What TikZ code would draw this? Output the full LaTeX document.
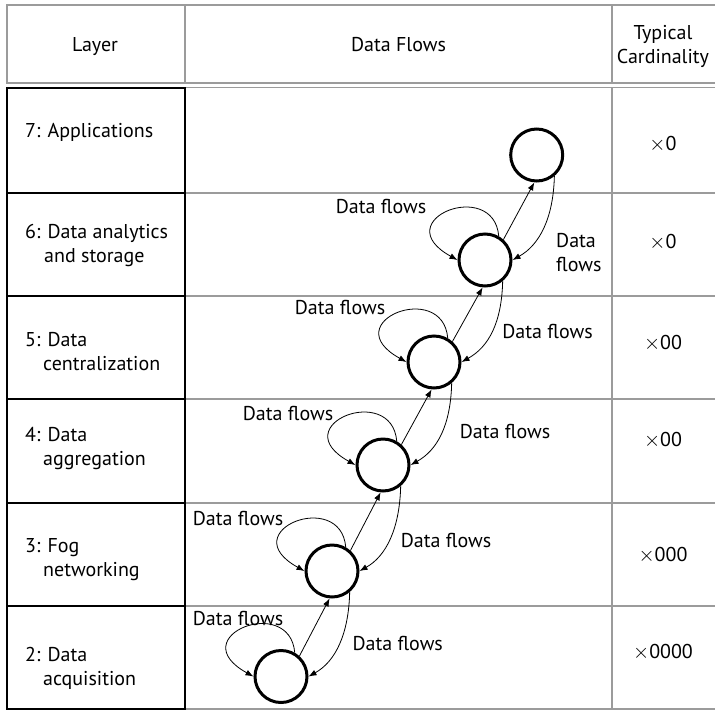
\documentclass[tikz,border=0pt]{standalone}
\usepackage{fontspec}
\setmainfont{PT Sans}
\usetikzlibrary{arrows.meta}
\definecolor{gridgray}{RGB}{155,155,155}
\newcommand{\cardx}{\ensuremath{\times}}
\begin{document}
\begin{tikzpicture}[x=1pt,y=-1pt,
  grid/.style={draw=gridgray,line width=1.4pt},
  layerbox/.style={draw=black,line width=2.2pt},
  txt/.style={font=\fontsize{20}{24}\selectfont,inner sep=0pt},
  nd/.style={circle,draw=black,line width=3pt,minimum size=52pt,inner sep=0pt},
  flow/.style={draw=black,line width=0.8pt,-{Latex[length=8pt,width=6pt]}}]

\useasboundingbox (0,0) rectangle (715,710);

% header
\draw[grid] (7,5) rectangle (717,83);
\draw[grid] (185,5) -- (185,83);
\draw[grid] (612,5) -- (612,83);
\node[txt] (hlayer) at (95,47) {Layer};
\node[txt] (hflows) at (398.5,45) {Data Flows};
\node[txt,align=center,anchor=north] (hcard) at (663,25) {Typical\\Cardinality};

% body grid
\foreach \y in {87.5,193,296,399,503,606,709}
  \draw[grid] (185,\y) -- (717,\y);
\draw[grid] (612,87.5) -- (612,709);
\draw[layerbox] (7,88) rectangle (185,709);
\foreach \y in {193,296,399,503,606}
  \draw[layerbox] (7,\y) -- (185,\y);

% layer names
\node[txt,anchor=north west] (l7) at (25,123.3) {7: Applications};
\node[txt,anchor=north west,align=left] (l6) at (25,224) {6: Data analytics\\\hspace*{19pt}and storage};
\node[txt,anchor=north west,align=left] (l5) at (25,331.7) {5: Data\\\hspace*{18pt}centralization};
\node[txt,anchor=north west,align=left] (l4) at (25,426.7) {4: Data\\\hspace*{18pt}aggregation};
\node[txt,anchor=north west,align=left] (l3) at (25,538.3) {3: Fog\\\hspace*{18pt}networking};
\node[txt,anchor=north west,align=left] (l2) at (25,646.7) {2: Data\\\hspace*{18pt}acquisition};

% cardinalities
\node[txt] (k7) at (663,144) {\cardx0};
\node[txt] (k6) at (663,242) {\cardx0};
\node[txt] (k5) at (663,343) {\cardx00};
\node[txt] (k4) at (663,440) {\cardx00};
\node[txt] (k3) at (663,555) {\cardx000};
\node[txt] (k2) at (663,652) {\cardx0000};

% circles
\node[nd] (c2) at (281,676.5) {};
\node[nd] (c3) at (332,571) {};
\node[nd] (c4) at (383,465) {};
\node[nd] (c5) at (434,362) {};
\node[nd] (c6) at (485,260) {};
\node[nd] (c7) at (536.7,155) {};

% connectors
\foreach \l/\u in {c2/c3,c3/c4,c4/c5,c5/c6,c6/c7}{
  \draw[flow] (\l.48) -- (\u.265);
  \draw[flow] (\u.-50) .. controls +(-1,42) and +(27,-15) .. (\l.east);
  \draw[flow] (\l.60) .. controls +(-5,-59) and +(-72.5,-40) .. (\l.west);
}

% flow labels
\node[txt] (f6l) at (381,206) {Data flows};
\node[txt,align=left,anchor=north west] (f6r) at (556,233) {Data\\flows};
\node[txt] (f5l) at (340,307) {Data flows};
\node[txt] (f5r) at (547.5,331) {Data flows};
\node[txt] (f4l) at (288,413) {Data flows};
\node[txt] (f4r) at (505,431) {Data flows};
\node[txt] (f3l) at (238,518) {Data flows};
\node[txt] (f3r) at (446,540) {Data flows};
\node[txt] (f2l) at (238,618) {Data flows};
\node[txt] (f2r) at (397.7,643) {Data flows};
\end{tikzpicture}
\end{document}
